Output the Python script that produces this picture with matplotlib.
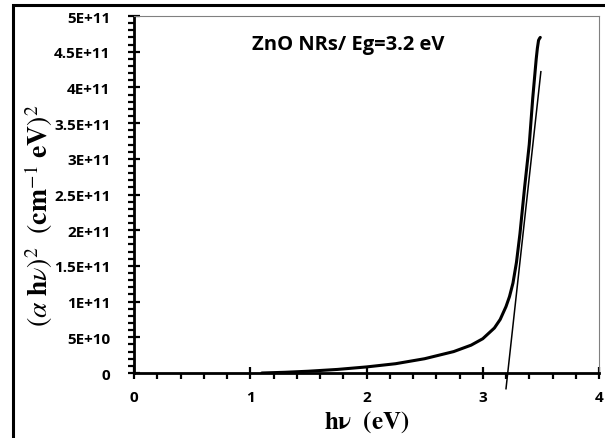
import numpy as np
import matplotlib.pyplot as plt
from matplotlib.patches import Rectangle
from matplotlib.ticker import MultipleLocator

# Tauc plot data
hv = [1.10, 1.30, 1.50, 1.75, 2.00, 2.25, 2.50, 2.75, 2.90, 3.00, 3.10, 3.15,
      3.20, 3.23, 3.26, 3.29, 3.32, 3.36, 3.40, 3.43, 3.46, 3.47, 3.48, 3.49, 3.495]
ahv2 = [0.0, 1.0e9, 2.5e9, 5.0e9, 8.5e9, 1.3e10, 2.0e10, 3.0e10, 3.9e10, 4.8e10,
        6.3e10, 7.5e10, 9.3e10, 1.07e11, 1.26e11, 1.55e11, 1.95e11, 2.6e11, 3.2e11,
        3.85e11, 4.4e11, 4.55e11, 4.66e11, 4.69e11, 4.70e11]

# linear fit line (extrapolation to Eg)
fit_x = [3.20, 3.50]
fit_y = [-2.2e10, 4.22e11]

x_ticks = [0, 1, 2, 3, 4]
y_ticks = [0, 5e10, 1e11, 1.5e11, 2e11, 2.5e11, 3e11, 3.5e11, 4e11, 4.5e11, 5e11]
y_labels = ['0', '5E+10', '1E+11', '1.5E+11', '2E+11', '2.5E+11', '3E+11',
            '3.5E+11', '4E+11', '4.5E+11', '5E+11']

plt.rcParams['mathtext.fontset'] = 'stix'

fig = plt.figure(figsize=(6.05, 4.39), dpi=100)
ax = fig.add_axes([134/605, 1-374/439, (599-134)/605, (374-17)/439])

ax.plot(hv, ahv2, color='black', lw=2.2, solid_capstyle='round', solid_joinstyle='round')
ax.plot(fit_x, fit_y, color='black', lw=1.1, clip_on=False)

ax.set_xlim(0, 4)
ax.set_ylim(0, 5e11)
ax.set_xticks(x_ticks)
ax.set_xticklabels([str(t) for t in x_ticks])
ax.set_yticks(y_ticks)
ax.set_yticklabels(y_labels)
ax.xaxis.set_minor_locator(MultipleLocator(0.2))
ax.yaxis.set_minor_locator(MultipleLocator(1e10))

for lab in ax.get_xticklabels() + ax.get_yticklabels():
    lab.set_fontfamily('Open Sans')
    lab.set_fontweight('bold')
    lab.set_fontsize(11)

ax.tick_params(which='major', direction='inout', length=8, width=1.6)
ax.tick_params(which='minor', direction='out', length=4, width=1.6)
ax.tick_params(axis='x', which='major', pad=8)
ax.tick_params(axis='y', which='major', pad=13)

for s in ['left', 'bottom']:
    ax.spines[s].set_linewidth(2.0)
    ax.spines[s].set_color('black')
for s in ['top', 'right']:
    ax.spines[s].set_linewidth(0.8)
    ax.spines[s].set_color('#808080')

ax.set_xlabel(r'$\mathbf{h\nu\ \ (eV)}$', fontsize=18)
ax.xaxis.set_label_coords(0.5, -0.10)
ax.set_ylabel(r'$(\alpha\ \mathbf{h}\nu)^2\ \ (\mathbf{cm}^{-1}\ \mathbf{eV})^2$', fontsize=20)
ax.yaxis.set_label_coords(-0.17, 0.443)

ax.text(1.015, 4.61e11, 'ZnO NRs/ Eg=3.2 eV', fontfamily='Open Sans', fontweight='bold',
        fontsize=14.5, va='center', ha='left')

# outer frame
fig.patches.append(Rectangle((12.5/605, -0.1), 1.2, 1-5.5/439 + 0.1,
                             transform=fig.transFigure, fill=False,
                             edgecolor='black', lw=2.2))

fig.savefig('out.png', dpi=100)
